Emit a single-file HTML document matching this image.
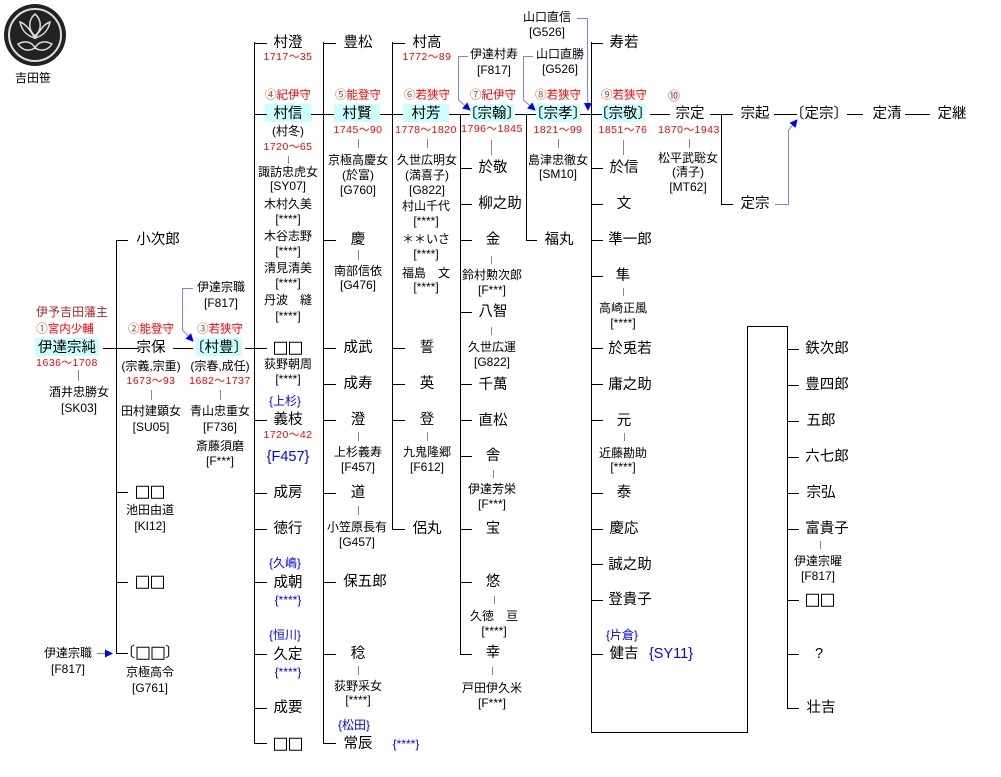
<!DOCTYPE html>
<html><head><meta charset="utf-8">
<style>
body{margin:0;background:#fff;width:1001px;height:777px;position:relative;overflow:hidden;font-family:"Liberation Sans","Noto Sans CJK JP",sans-serif;color:#000}
.t{position:absolute;transform:translate(-50%,-50%);white-space:nowrap;line-height:1}
.n{font-size:14.5px}
.s{font-size:12px}
.d{font-size:10.5px;color:#f00;font-family:"Liberation Sans","Noto Sans CJK JP",sans-serif;letter-spacing:0.5px}
.r{font-size:11.5px;color:#f00}
.r b{color:#a0522d;font-weight:normal}
.b{color:#00f}
.hl{position:absolute;background:#ccffff}
.q{display:inline-block;width:11px;height:11px;border:1.5px solid #000;margin:0 1px;vertical-align:middle}
svg{position:absolute;left:0;top:0}
</style></head><body>
<div class="hl" style="left:35px;top:338px;width:64px;height:18px"></div>
<div class="hl" style="left:196px;top:338px;width:46px;height:18px"></div>
<div class="hl" style="left:265px;top:104px;width:46px;height:18px"></div>
<div class="hl" style="left:334px;top:104px;width:46px;height:18px"></div>
<div class="hl" style="left:403px;top:104px;width:46px;height:18px"></div>
<div class="hl" style="left:471px;top:104px;width:43px;height:18px"></div>
<div class="hl" style="left:536px;top:104px;width:44px;height:18px"></div>
<div class="hl" style="left:602px;top:104px;width:43px;height:18px"></div>
<svg width="1001" height="777">
<defs><marker id="a" markerWidth="8" markerHeight="8" refX="7" refY="4" orient="auto" markerUnits="userSpaceOnUse"><path d="M0,0 L8,4 L0,8 z" fill="#00f"/></marker></defs>
<circle cx="35" cy="35" r="31" fill="#222"/>
<circle cx="35" cy="35" r="26" fill="none" stroke="#ddd" stroke-width="2"/>
<path d="M35,14 C28,20 28,30 35,36 C42,30 42,20 35,14Z M20,22 C22,32 28,36 35,38 C30,30 26,24 20,22Z M50,22 C48,32 42,36 35,38 C40,30 44,24 50,22Z M18,44 C26,40 32,42 35,48 C28,52 22,50 18,44Z M52,44 C44,40 38,42 35,48 C42,52 48,50 52,44Z" fill="none" stroke="#ddd" stroke-width="1.5"/>
<g stroke="#000" stroke-width="1" fill="none" shape-rendering="crispEdges">
<path d="M116.5,240V653.5 M116,240.5H128 M116,492.5H128 M116,582.5H128 M116,653.5H128 M103,348.5H139 M173,348.5H193 M245,348.5H267"/>
<path d="M254.5,42V743.5 M254,43.5H267 M254,114.5H267 M254,420.5H267 M254,493.5H267 M254,529.5H267 M254,582.5H267 M254,654.5H267 M254,708.5H267 M254,743.5H267"/>
<path d="M311,114.5H334 M323.5,42V743.5 M323,43.5H336 M323,240.5H336 M323,348.5H336 M323,384.5H336 M323,420.5H336 M323,493.5H336 M323,582.5H336 M323,654.5H336 M323,743.5H336"/>
<path d="M380,114.5H403 M392.5,42V529.5 M392,43.5H405 M392,348.5H405 M392,384.5H405 M392,420.5H405 M392,529.5H405"/>
<path d="M449,114.5H470 M460.5,114V654.5 M460,168.5H472 M460,204.5H472 M460,240.5H472 M460,312.5H472 M460,384.5H472 M460,420.5H472 M460,456.5H472 M460,529.5H472 M460,582.5H472 M460,654.5H472"/>
<path d="M515,114.5H536 M526.5,114V240.5 M526,240.5H537"/>
<path d="M580,114.5H602 M591.5,42V732.5 M591,43.5H603 M591,168.5H603 M591,204.5H603 M591,240.5H603 M591,276.5H603 M591,348.5H603 M591,384.5H603 M591,420.5H603 M591,493.5H603 M591,529.5H603 M591,564.5H603 M591,600.5H603 M591,654.5H603 M591,732.5H747.5V326.5H787.5V708.5"/>
<path d="M787,349.5H799 M787,385.5H799 M787,421.5H799 M787,457.5H799 M787,493.5H799 M787,529.5H799 M787,600.5H799 M787,654.5H799 M787,708.5H799"/>
<path d="M650,114.5H670 M710,114.5H733 M721.5,114V204.5 M721,204.5H733 M774,114.5H797 M847,114.5H863 M905,114.5H930"/>
</g>
<g stroke="#888" stroke-width="1" shape-rendering="crispEdges">
<path d="M78.5,370V381 M151.5,390V400 M220.5,390V400 M288.5,156V164 M358.5,139V148 M427.5,139V148 M491.5,140V155 M558.5,139V148 M623.5,140V155 M689.5,139V148 M358.5,250V260 M358.5,432V441 M358.5,506V515 M358.5,666V675 M427.5,432V441 M491.5,256V264 M491.5,327V335 M493.5,470V478 M494.5,596V604 M492.5,667V675 M623.5,288V296 M624.5,433V441 M820.5,541V549"/>
</g>
<g stroke="#7f7fff" stroke-width="1" fill="none">
<path d="M193,288.5H182.5V330L193,341" marker-end="url(#a)"/>
<path d="M97,653.5H112" marker-end="url(#a)"/>
<path d="M468,56.5H458.5V100L470,110" marker-end="url(#a)"/>
<path d="M533,56.5H523.5V100L535,110" marker-end="url(#a)"/>
<path d="M577,18.5H587.5V88L588,110" marker-end="url(#a)"/>
<path d="M775,204.5H788.5V130L797,120" marker-end="url(#a)"/>
</g>
</svg>
<div class="t s" style="left:33px;top:78px">吉田笹</div>

<div class="t s" style="left:72px;top:312px;color:#a52a2a">伊予吉田藩主</div>
<div class="t r" style="left:65px;top:330px"><b>①</b>宮内少輔</div>
<div class="t n" style="left:67px;top:348px">伊達宗純</div>
<div class="t d" style="left:67px;top:363px">1636〜1708</div>
<div class="t s" style="left:79px;top:392px">酒井忠勝女</div>
<div class="t s" style="left:79px;top:408px">[SK03]</div>

<div class="t n" style="left:158px;top:240px">小次郎</div>
<div class="t r" style="left:151px;top:330px"><b>②</b>能登守</div>
<div class="t n" style="left:151px;top:348px">宗保</div>
<div class="t s" style="left:151px;top:366px">(宗義,宗重)</div>
<div class="t d" style="left:151px;top:381px">1673〜93</div>
<div class="t s" style="left:151px;top:411px">田村建顕女</div>
<div class="t s" style="left:151px;top:427px">[SU05]</div>
<div class="t n" style="left:150px;top:492px"><span class="q"></span><span class="q"></span></div>
<div class="t s" style="left:150px;top:510px">池田由道</div>
<div class="t s" style="left:150px;top:526px">[KI12]</div>
<div class="t n" style="left:150px;top:582px"><span class="q"></span><span class="q"></span></div>
<div class="t n" style="left:150px;top:653px">〔<span class="q"></span><span class="q"></span>〕</div>
<div class="t s" style="left:150px;top:672px">京極高令</div>
<div class="t s" style="left:150px;top:688px">[G761]</div>
<div class="t s" style="left:68px;top:653px">伊達宗職</div>
<div class="t s" style="left:68px;top:669px">[F817]</div>

<div class="t s" style="left:221px;top:287px">伊達宗職</div>
<div class="t s" style="left:221px;top:303px">[F817]</div>
<div class="t r" style="left:220px;top:330px"><b>③</b>若狭守</div>
<div class="t n" style="left:219px;top:348px">〔村豊〕</div>
<div class="t s" style="left:220px;top:366px">(宗春,成任)</div>
<div class="t d" style="left:220px;top:381px">1682〜1737</div>
<div class="t s" style="left:220px;top:411px">青山忠重女</div>
<div class="t s" style="left:220px;top:427px">[F736]</div>
<div class="t s" style="left:220px;top:446px">斎藤須磨</div>
<div class="t s" style="left:220px;top:461px">[F***]</div>

<div class="t n" style="left:288px;top:43px">村澄</div>
<div class="t d" style="left:288px;top:57px">1717〜35</div>
<div class="t r" style="left:288px;top:96px"><b>④</b>紀伊守</div>
<div class="t n" style="left:288px;top:114px">村信</div>
<div class="t s" style="left:288px;top:131px">(村冬)</div>
<div class="t d" style="left:288px;top:147px">1720〜65</div>
<div class="t s" style="left:288px;top:172px">諏訪忠虎女</div>
<div class="t s" style="left:288px;top:186px">[SY07]</div>
<div class="t s" style="left:288px;top:204px">木村久美</div>
<div class="t s" style="left:288px;top:219px">[****]</div>
<div class="t s" style="left:288px;top:236px">木谷志野</div>
<div class="t s" style="left:288px;top:251px">[****]</div>
<div class="t s" style="left:288px;top:268px">清見清美</div>
<div class="t s" style="left:288px;top:283px">[****]</div>
<div class="t s" style="left:288px;top:300px">丹波　縫</div>
<div class="t s" style="left:288px;top:316px">[****]</div>
<div class="t n" style="left:288px;top:348px"><span class="q"></span><span class="q"></span></div>
<div class="t s" style="left:288px;top:364px">荻野朝周</div>
<div class="t s" style="left:288px;top:379px">[****]</div>
<div class="t s b" style="left:285px;top:401px">{上杉}</div>
<div class="t n" style="left:288px;top:420px">義枝</div>
<div class="t d" style="left:288px;top:435px">1720〜42</div>
<div class="t n b" style="left:288px;top:457px">{F457}</div>
<div class="t n" style="left:288px;top:493px">成房</div>
<div class="t n" style="left:288px;top:529px">徳行</div>
<div class="t s b" style="left:285px;top:563px">{久嶋}</div>
<div class="t n" style="left:288px;top:583px">成朝</div>
<div class="t s b" style="left:288px;top:600px">{****}</div>
<div class="t s b" style="left:285px;top:635px">{恒川}</div>
<div class="t n" style="left:288px;top:655px">久定</div>
<div class="t s b" style="left:288px;top:672px">{****}</div>
<div class="t n" style="left:288px;top:708px">成要</div>
<div class="t n" style="left:288px;top:744px"><span class="q"></span><span class="q"></span></div>

<div class="t n" style="left:358px;top:43px">豊松</div>
<div class="t r" style="left:358px;top:96px"><b>⑤</b>能登守</div>
<div class="t n" style="left:357px;top:114px">村賢</div>
<div class="t d" style="left:358px;top:130px">1745〜90</div>
<div class="t s" style="left:358px;top:160px">京極高慶女</div>
<div class="t s" style="left:358px;top:175px">(於富)</div>
<div class="t s" style="left:358px;top:190px">[G760]</div>
<div class="t n" style="left:358px;top:240px">慶</div>
<div class="t s" style="left:358px;top:271px">南部信依</div>
<div class="t s" style="left:358px;top:285px">[G476]</div>
<div class="t n" style="left:358px;top:348px">成武</div>
<div class="t n" style="left:358px;top:384px">成寿</div>
<div class="t n" style="left:358px;top:420px">澄</div>
<div class="t s" style="left:358px;top:452px">上杉義寿</div>
<div class="t s" style="left:358px;top:467px">[F457]</div>
<div class="t n" style="left:358px;top:493px">道</div>
<div class="t s" style="left:357px;top:527px">小笠原長有</div>
<div class="t s" style="left:357px;top:542px">[G457]</div>
<div class="t n" style="left:365px;top:582px">保五郎</div>
<div class="t n" style="left:358px;top:654px">稔</div>
<div class="t s" style="left:358px;top:686px">荻野采女</div>
<div class="t s" style="left:358px;top:700px">[****]</div>
<div class="t s b" style="left:354px;top:725px">{松田}</div>
<div class="t n" style="left:358px;top:744px">常辰</div>
<div class="t s b" style="left:406px;top:744px">{****}</div>

<div class="t n" style="left:427px;top:43px">村高</div>
<div class="t d" style="left:427px;top:57px">1772〜89</div>
<div class="t r" style="left:427px;top:96px"><b>⑥</b>若狭守</div>
<div class="t n" style="left:426px;top:114px">村芳</div>
<div class="t d" style="left:426px;top:130px">1778〜1820</div>
<div class="t s" style="left:427px;top:160px">久世広明女</div>
<div class="t s" style="left:427px;top:175px">(満喜子)</div>
<div class="t s" style="left:427px;top:190px">[G822]</div>
<div class="t s" style="left:426px;top:206px">村山千代</div>
<div class="t s" style="left:426px;top:221px">[****]</div>
<div class="t s" style="left:426px;top:239px">＊＊いさ</div>
<div class="t s" style="left:426px;top:254px">[****]</div>
<div class="t s" style="left:426px;top:273px">福島　文</div>
<div class="t s" style="left:426px;top:287px">[****]</div>
<div class="t n" style="left:427px;top:348px">誓</div>
<div class="t n" style="left:427px;top:384px">英</div>
<div class="t n" style="left:427px;top:420px">登</div>
<div class="t s" style="left:427px;top:452px">九鬼隆郷</div>
<div class="t s" style="left:427px;top:467px">[F612]</div>
<div class="t n" style="left:427px;top:529px">侶丸</div>

<div class="t s" style="left:494px;top:54px">伊達村寿</div>
<div class="t s" style="left:494px;top:70px">[F817]</div>
<div class="t r" style="left:493px;top:96px"><b>⑦</b>紀伊守</div>
<div class="t n" style="left:492px;top:114px">〔宗翰〕</div>
<div class="t d" style="left:492px;top:129px">1796〜1845</div>
<div class="t n" style="left:493px;top:168px">於敬</div>
<div class="t n" style="left:500px;top:204px">柳之助</div>
<div class="t n" style="left:493px;top:240px">金</div>
<div class="t s" style="left:492px;top:275px">鈴村勲次郎</div>
<div class="t s" style="left:492px;top:290px">[F***]</div>
<div class="t n" style="left:493px;top:312px">八智</div>
<div class="t s" style="left:492px;top:347px">久世広運</div>
<div class="t s" style="left:492px;top:362px">[G822]</div>
<div class="t n" style="left:493px;top:385px">千萬</div>
<div class="t n" style="left:493px;top:421px">直松</div>
<div class="t n" style="left:493px;top:456px">舎</div>
<div class="t s" style="left:492px;top:489px">伊達芳栄</div>
<div class="t s" style="left:492px;top:504px">[F***]</div>
<div class="t n" style="left:493px;top:529px">宝</div>
<div class="t n" style="left:493px;top:582px">悠</div>
<div class="t s" style="left:494px;top:616px">久徳　亘</div>
<div class="t s" style="left:494px;top:631px">[****]</div>
<div class="t n" style="left:493px;top:653px">幸</div>
<div class="t s" style="left:492px;top:688px">戸田伊久米</div>
<div class="t s" style="left:492px;top:703px">[F***]</div>

<div class="t s" style="left:547px;top:17px">山口直信</div>
<div class="t s" style="left:547px;top:32px">[G526]</div>
<div class="t s" style="left:560px;top:54px">山口直勝</div>
<div class="t s" style="left:560px;top:69px">[G526]</div>
<div class="t r" style="left:558px;top:96px"><b>⑧</b>若狭守</div>
<div class="t n" style="left:558px;top:114px">〔宗孝〕</div>
<div class="t d" style="left:558px;top:130px">1821〜99</div>
<div class="t s" style="left:558px;top:160px">島津忠徹女</div>
<div class="t s" style="left:558px;top:174px">[SM10]</div>
<div class="t n" style="left:559px;top:240px">福丸</div>

<div class="t n" style="left:624px;top:43px">寿若</div>
<div class="t r" style="left:624px;top:96px"><b>⑨</b>若狭守</div>
<div class="t n" style="left:623px;top:114px">〔宗敬〕</div>
<div class="t d" style="left:623px;top:130px">1851〜76</div>
<div class="t n" style="left:624px;top:168px">於信</div>
<div class="t n" style="left:624px;top:204px">文</div>
<div class="t n" style="left:630px;top:240px">準一郎</div>
<div class="t n" style="left:623px;top:276px">隼</div>
<div class="t s" style="left:623px;top:308px">高崎正風</div>
<div class="t s" style="left:623px;top:323px">[****]</div>
<div class="t n" style="left:630px;top:349px">於兎若</div>
<div class="t n" style="left:630px;top:385px">庸之助</div>
<div class="t n" style="left:624px;top:421px">元</div>
<div class="t s" style="left:623px;top:453px">近藤勘助</div>
<div class="t s" style="left:623px;top:467px">[****]</div>
<div class="t n" style="left:624px;top:493px">泰</div>
<div class="t n" style="left:624px;top:529px">慶応</div>
<div class="t n" style="left:630px;top:565px">誠之助</div>
<div class="t n" style="left:630px;top:600px">登貴子</div>
<div class="t s b" style="left:622px;top:635px">{片倉}</div>
<div class="t n" style="left:624px;top:654px">健吉</div>
<div class="t n b" style="left:671px;top:654px">{SY11}</div>

<div class="t s" style="left:674px;top:96px;color:#a52a2a">⑩</div>
<div class="t n" style="left:690px;top:114px">宗定</div>
<div class="t d" style="left:689px;top:130px">1870〜1943</div>
<div class="t s" style="left:688px;top:158px">松平武聡女</div>
<div class="t s" style="left:688px;top:172px">(清子)</div>
<div class="t s" style="left:688px;top:187px">[MT62]</div>
<div class="t n" style="left:755px;top:114px">宗起</div>
<div class="t n" style="left:755px;top:204px">定宗</div>
<div class="t n" style="left:819px;top:114px">〔定宗〕</div>
<div class="t n" style="left:887px;top:114px">定清</div>
<div class="t n" style="left:952px;top:114px">定継</div>

<div class="t n" style="left:827px;top:349px">鉄次郎</div>
<div class="t n" style="left:827px;top:385px">豊四郎</div>
<div class="t n" style="left:821px;top:421px">五郎</div>
<div class="t n" style="left:827px;top:457px">六七郎</div>
<div class="t n" style="left:821px;top:493px">宗弘</div>
<div class="t n" style="left:827px;top:529px">富貴子</div>
<div class="t s" style="left:818px;top:561px">伊達宗曜</div>
<div class="t s" style="left:818px;top:576px">[F817]</div>
<div class="t n" style="left:820px;top:600px"><span class="q"></span><span class="q"></span></div>
<div class="t n" style="left:819px;top:654px">?</div>
<div class="t n" style="left:821px;top:708px">壮吉</div>
</body></html>
